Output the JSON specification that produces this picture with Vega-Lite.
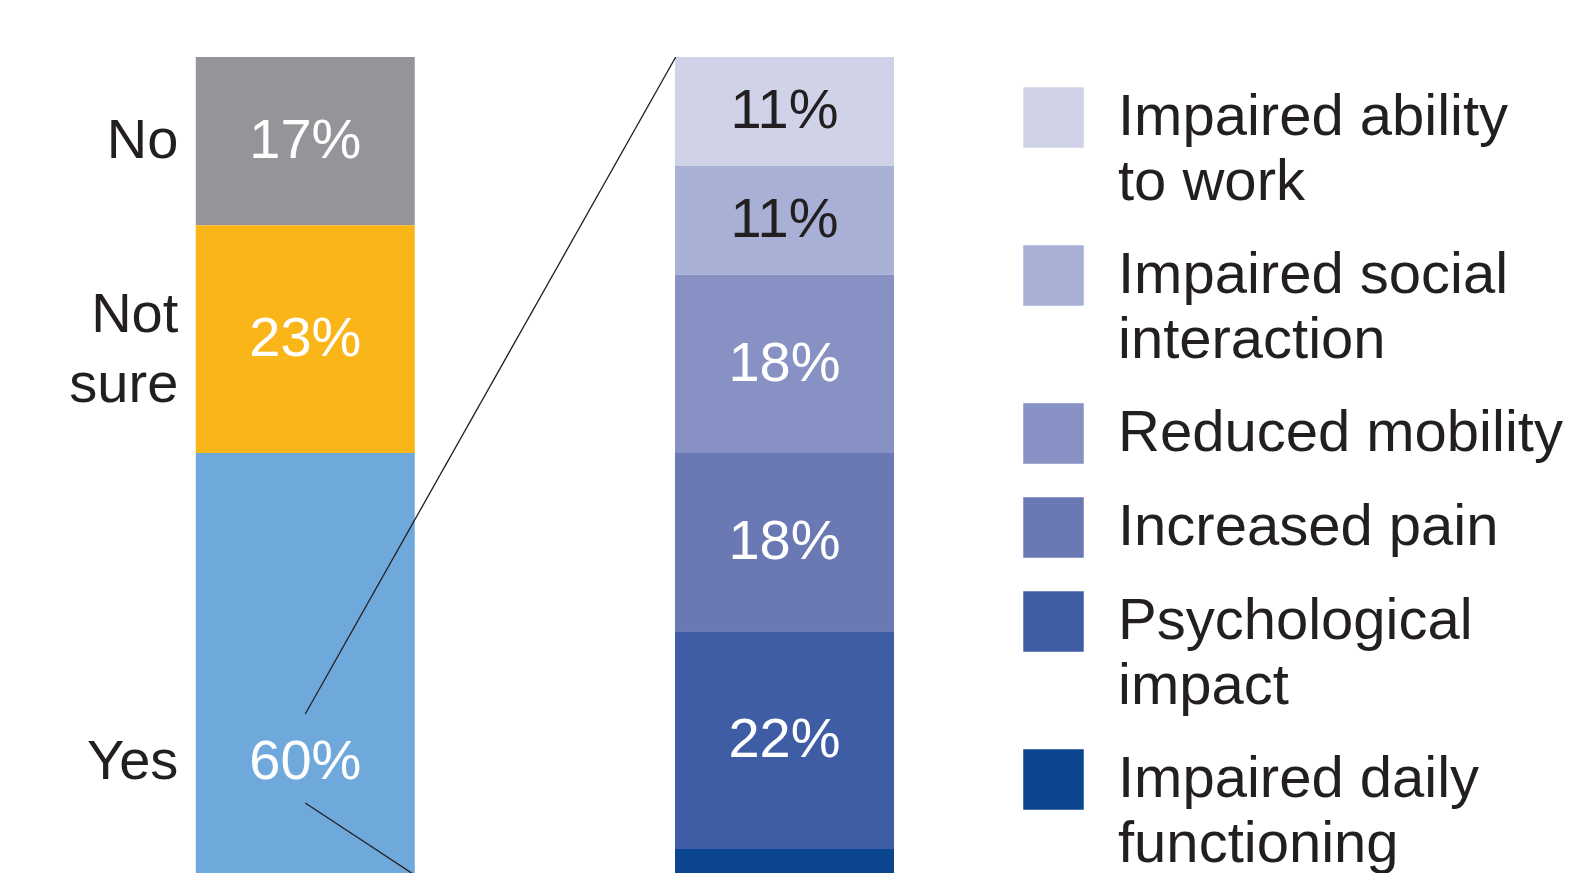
{
  "$schema": "https://vega.github.io/schema/vega-lite/v6.json",
  "width": 1576,
  "height": 816,
  "autosize": {"type": "none"},
  "padding": {"left": 0, "top": 57, "right": 0, "bottom": 0},
  "background": "white",
  "title": {
    "text": "Impact of acute pain on your quality of life",
    "anchor": "start",
    "frame": "group",
    "offset": 57,
    "baseline": "alphabetic",
    "font": "Liberation Sans",
    "fontSize": 36,
    "fontWeight": "bold",
    "fontStyle": "italic",
    "color": "#0a479b"
  },
  "datasets": {
    "main": [
      {"bar": 1, "cat": "No", "share": 0.17, "order": 1},
      {"bar": 1, "cat": "Not sure", "share": 0.23, "order": 2},
      {"bar": 1, "cat": "Yes", "share": 0.60, "order": 3},
      {"bar": 2, "cat": "Impaired ability to work", "share": 0.11, "order": 1},
      {"bar": 2, "cat": "Impaired social interaction", "share": 0.11, "order": 2},
      {"bar": 2, "cat": "Reduced mobility", "share": 0.18, "order": 3},
      {"bar": 2, "cat": "Increased pain", "share": 0.18, "order": 4},
      {"bar": 2, "cat": "Psychological impact", "share": 0.22, "order": 5},
      {"bar": 2, "cat": "Impaired daily functioning", "share": 0.20, "order": 6}
    ],
    "links": [
      {"link": "top", "lx": 1, "ly": 0.6636},
      {"link": "top", "lx": 1.77296, "ly": 0},
      {"link": "bottom", "lx": 1, "ly": 0.7535},
      {"link": "bottom", "lx": 1.77296, "ly": 1.0}
    ]
  },
  "layer": [
    {
      "data": {"name": "main"},
      "mark": {"type": "bar", "width": 219, "clip": true},
      "encoding": {
        "x": {"field": "bar", "type": "quantitative", "scale": {"domain": [0.37342, 3.64109], "nice": false, "zero": false}, "axis": null},
        "y": {"field": "share", "type": "quantitative", "stack": "zero", "scale": {"domain": [0, 0.82424], "reverse": true, "nice": false, "zero": false}, "axis": null},
        "order": {"field": "order", "type": "quantitative"},
        "color": {
          "field": "cat",
          "type": "nominal",
          "scale": {
            "domain": ["No", "Not sure", "Yes", "Impaired ability to work", "Impaired social interaction", "Reduced mobility", "Increased pain", "Psychological impact", "Impaired daily functioning"],
            "range": ["#939598", "#fab518", "#6fa9db", "#d0d3e8", "#a8b0d6", "#8791c3", "#6a78b4", "#3f5da5", "#0b448f"]
          },
          "legend": {
            "values": ["Impaired ability to work", "Impaired social interaction", "Reduced mobility", "Increased pain", "Psychological impact", "Impaired daily functioning"],
            "orient": "none",
            "legendX": 1023,
            "legendY": 30,
            "title": null,
            "padding": 0,
            "symbolType": "square",
            "symbolSize": 3660,
            "symbolStrokeWidth": 0,
            "symbolOpacity": 1,
            "labelFont": "Liberation Sans",
            "labelFontSize": 58,
            "labelColor": "#231f20",
            "labelOffset": 34,
            "labelLimit": 1000,
            "labelBaseline": "middle",
            "rowPadding": 33,
            "labelExpr": "datum.label == 'Impaired ability to work' ? ['Impaired ability', 'to work'] : datum.label == 'Impaired social interaction' ? ['Impaired social', 'interaction'] : datum.label == 'Psychological impact' ? ['Psychological', 'impact'] : datum.label == 'Impaired daily functioning' ? ['Impaired daily', 'functioning'] : datum.label"
          }
        }
      }
    },
    {
      "data": {"name": "links"},
      "mark": {"type": "line", "color": "#231f20", "strokeWidth": 1.3, "clip": true},
      "encoding": {
        "x": {"field": "lx", "type": "quantitative", "scale": {"domain": [0.37342, 3.64109], "nice": false, "zero": false}, "axis": null},
        "y": {"field": "ly", "type": "quantitative", "scale": {"domain": [0, 0.82424], "reverse": true, "nice": false, "zero": false}, "axis": null},
        "detail": {"field": "link", "type": "nominal"}
      }
    },
    {
      "data": {"name": "main"},
      "transform": [
        {"stack": "share", "groupby": ["bar"], "sort": [{"field": "order"}], "as": ["s0", "s1"]},
        {"calculate": "(datum.s0 + datum.s1) / 2", "as": "mid"},
        {"filter": "datum.cat != 'Yes'"}
      ],
      "mark": {"type": "text", "font": "Liberation Sans", "fontSize": 56, "baseline": "middle", "align": "center"},
      "encoding": {
        "x": {"field": "bar", "type": "quantitative", "scale": {"domain": [0.37342, 3.64109], "nice": false, "zero": false}, "axis": null},
        "y": {"field": "mid", "type": "quantitative", "scale": {"domain": [0, 0.82424], "reverse": true, "nice": false, "zero": false}, "axis": null},
        "text": {"field": "share", "type": "quantitative", "format": ".0%"},
        "color": {"condition": {"test": "datum.cat == 'Impaired ability to work' || datum.cat == 'Impaired social interaction'", "value": "#231f20"}, "value": "white"}
      }
    },
    {
      "data": {"name": "main"},
      "transform": [
        {"stack": "share", "groupby": ["bar"], "sort": [{"field": "order"}], "as": ["s0", "s1"]},
        {"calculate": "(datum.s0 + datum.s1) / 2", "as": "mid"},
        {"filter": "datum.cat == 'Yes'"}
      ],
      "mark": {"type": "text", "font": "Liberation Sans", "fontSize": 56, "baseline": "middle", "align": "center", "dy": 12, "color": "white"},
      "encoding": {
        "x": {"field": "bar", "type": "quantitative", "scale": {"domain": [0.37342, 3.64109], "nice": false, "zero": false}, "axis": null},
        "y": {"field": "mid", "type": "quantitative", "scale": {"domain": [0, 0.82424], "reverse": true, "nice": false, "zero": false}, "axis": null},
        "text": {"field": "share", "type": "quantitative", "format": ".0%"}
      }
    },
    {
      "data": {"name": "main"},
      "transform": [
        {"stack": "share", "groupby": ["bar"], "sort": [{"field": "order"}], "as": ["s0", "s1"]},
        {"calculate": "(datum.s0 + datum.s1) / 2", "as": "mid"},
        {"filter": "datum.cat == 'No'"}
      ],
      "mark": {"type": "text", "font": "Liberation Sans", "fontSize": 56, "baseline": "middle", "align": "right", "dx": -127, "color": "#231f20"},
      "encoding": {
        "x": {"field": "bar", "type": "quantitative", "scale": {"domain": [0.37342, 3.64109], "nice": false, "zero": false}, "axis": null},
        "y": {"field": "mid", "type": "quantitative", "scale": {"domain": [0, 0.82424], "reverse": true, "nice": false, "zero": false}, "axis": null},
        "text": {"field": "cat", "type": "nominal"}
      }
    },
    {
      "data": {"name": "main"},
      "transform": [
        {"stack": "share", "groupby": ["bar"], "sort": [{"field": "order"}], "as": ["s0", "s1"]},
        {"calculate": "(datum.s0 + datum.s1) / 2", "as": "mid"},
        {"filter": "datum.cat == 'Yes'"}
      ],
      "mark": {"type": "text", "font": "Liberation Sans", "fontSize": 56, "baseline": "middle", "align": "right", "dx": -127, "dy": 12, "color": "#231f20"},
      "encoding": {
        "x": {"field": "bar", "type": "quantitative", "scale": {"domain": [0.37342, 3.64109], "nice": false, "zero": false}, "axis": null},
        "y": {"field": "mid", "type": "quantitative", "scale": {"domain": [0, 0.82424], "reverse": true, "nice": false, "zero": false}, "axis": null},
        "text": {"field": "cat", "type": "nominal"}
      }
    },
    {
      "data": {"name": "main"},
      "transform": [
        {"stack": "share", "groupby": ["bar"], "sort": [{"field": "order"}], "as": ["s0", "s1"]},
        {"calculate": "(datum.s0 + datum.s1) / 2", "as": "mid"},
        {"filter": "datum.cat == 'Not sure'"}
      ],
      "mark": {"type": "text", "font": "Liberation Sans", "fontSize": 56, "baseline": "middle", "align": "right", "dx": -127, "dy": -24, "lineBreak": " ", "lineHeight": 70, "color": "#231f20"},
      "encoding": {
        "x": {"field": "bar", "type": "quantitative", "scale": {"domain": [0.37342, 3.64109], "nice": false, "zero": false}, "axis": null},
        "y": {"field": "mid", "type": "quantitative", "scale": {"domain": [0, 0.82424], "reverse": true, "nice": false, "zero": false}, "axis": null},
        "text": {"field": "cat", "type": "nominal"}
      }
    }
  ],
  "config": {
    "view": {"stroke": null},
    "style": {"guide-label": {"lineHeight": 65}}
  }
}
